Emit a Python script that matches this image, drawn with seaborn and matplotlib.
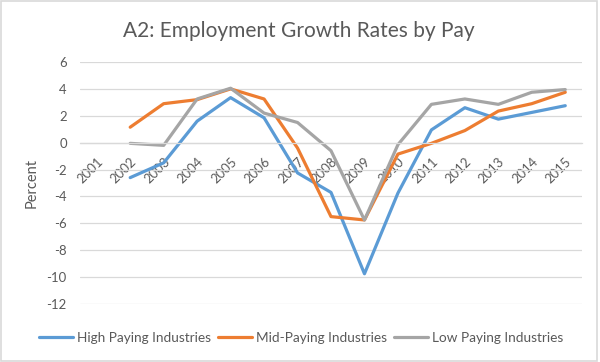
import numpy as np
import pandas as pd
import matplotlib
matplotlib.use("Agg")
import matplotlib.pyplot as plt
import seaborn as sns
from matplotlib.patches import Rectangle

years = list(range(2001, 2016))
high_paying = [np.nan, -2.6, -1.5, 1.6, 3.35, 1.85, -2.25, -3.7, -9.75, -3.75, 0.95, 2.6, 1.75, 2.25, 2.75]
mid_paying = [np.nan, 1.15, 2.9, 3.2, 4.0, 3.25, -0.4, -5.5, -5.75, -0.85, -0.05, 0.9, 2.35, 2.9, 3.75]
low_paying = [np.nan, -0.05, -0.2, 3.25, 4.05, 2.2, 1.5, -0.6, -5.75, -0.15, 2.85, 3.25, 2.85, 3.75, 3.95]
series_names = ["High Paying Industries", "Mid-Paying Industries", "Low Paying Industries"]
colors = ["#5B9BD5", "#ED7D31", "#A5A5A5"]
y_ticks = list(range(-12, 7, 2))
title = "A2: Employment Growth Rates by Pay"

df = pd.DataFrame({
    "Year": years * 3,
    "Value": high_paying + mid_paying + low_paying,
    "Series": [series_names[0]] * 15 + [series_names[1]] * 15 + [series_names[2]] * 15,
})

sns.set_theme(style="white")
plt.rcParams["font.family"] = ["Lato", "DejaVu Sans"]
text_color = "#595959"
W, H = 600, 362

fig = plt.figure(figsize=(6, 3.62), dpi=100)
renderer = fig.canvas.get_renderer()


def fitted_size(text, target_w, base=10.0):
    t = fig.text(0, 0, text, fontsize=base)
    w = t.get_window_extent(renderer).width
    t.remove()
    return base * target_w / w


tick_fs = fitted_size("-10", 20)
title_fs = fitted_size(title, 352)
leg_fs = fitted_size(series_names[0], 134)
ylab_fs = fitted_size("Percent", 50)

ax = fig.add_axes([80 / W, 1 - 304 / H, 502 / W, 242 / H])

sns.lineplot(data=df, x="Year", y="Value", hue="Series", palette=colors,
             hue_order=series_names, linewidth=2.3, ax=ax, legend=False)

ax.set_xlim(2000.5, 2015.5)
ax.set_ylim(-12, 6)
ax.set_yticks(y_ticks)
ax.set_yticklabels([str(t) for t in y_ticks], color=text_color, fontsize=tick_fs)
ax.yaxis.grid(True, color="#D9D9D9", linewidth=0.9)
ax.set_axisbelow(True)
for s in ["top", "right", "left"]:
    ax.spines[s].set_visible(False)
ax.spines["bottom"].set_position(("data", 0))
ax.spines["bottom"].set_color("#D9D9D9")
ax.spines["bottom"].set_linewidth(0.9)
ax.set_xticks(years)
ax.set_xticklabels([str(y) for y in years], rotation=45, ha="right", va="top",
                   rotation_mode="anchor", color=text_color, fontsize=tick_fs)
ax.tick_params(axis="y", length=0, pad=9.5)
ax.tick_params(axis="x", length=0, pad=9)
ax.set_xlabel("")
ax.set_ylabel("")
fig.text(32 / W, 1 - 183 / H, "Percent", rotation=90, ha="center", va="center",
         fontsize=ylab_fs, color=text_color)

fig.text(299 / W, 1 - 37 / H, title, ha="center", va="baseline",
         fontsize=title_fs, color=text_color)

px_per_fs = leg_fs * 100 / 72
handles = [plt.Line2D([0], [0], color=c, linewidth=2.3) for c in colors]
fig.legend(handles, series_names, loc="center left", bbox_to_anchor=(39 / W, 1 - 338 / H),
           ncol=3, frameon=False, fontsize=leg_fs, handlelength=34 / px_per_fs,
           handletextpad=4 / px_per_fs, columnspacing=7 / px_per_fs,
           borderpad=0, borderaxespad=0, labelcolor=text_color)

fig.patches.append(Rectangle((0.002, 0.003), 0.993, 0.994, transform=fig.transFigure,
                             fill=False, edgecolor="#D9D9D9", linewidth=1.2))

fig.savefig("out.png", dpi=100, facecolor="white")
